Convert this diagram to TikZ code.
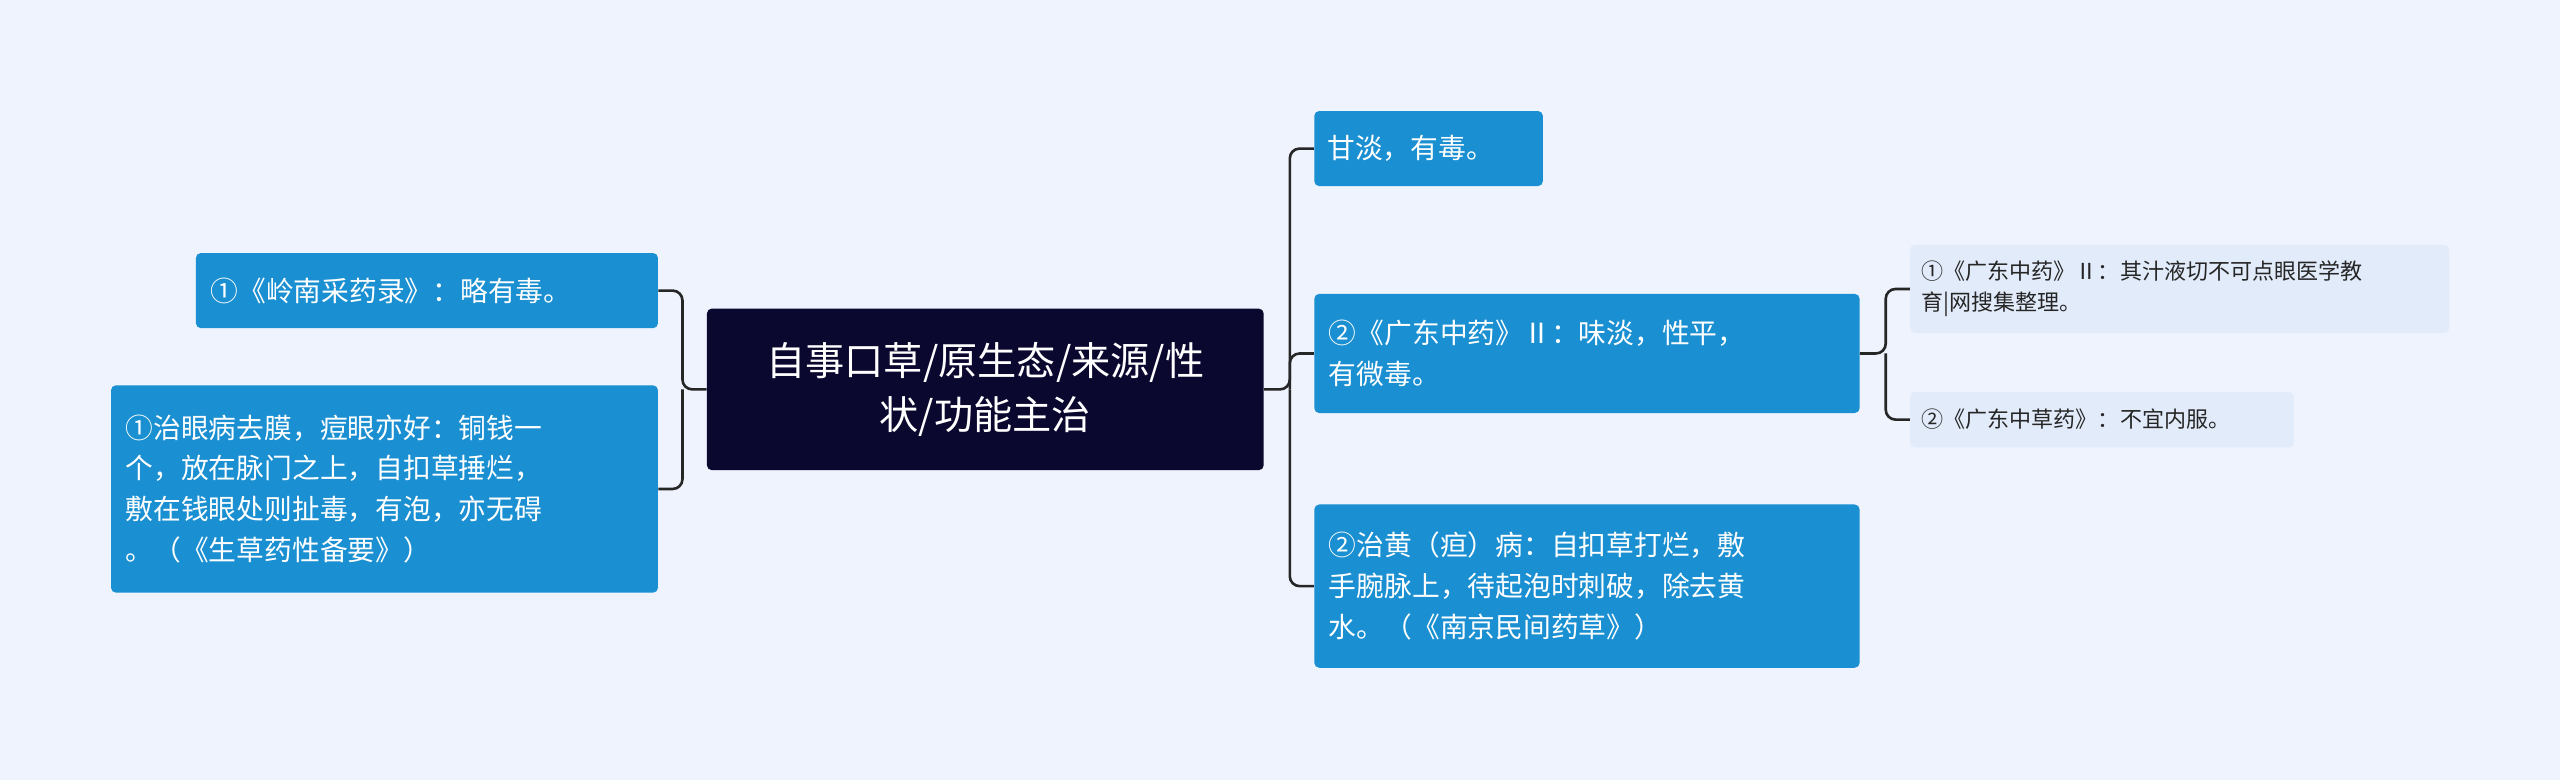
\documentclass[tikz,border=0pt]{standalone}
\usepackage{fontspec}
\setmainfont{Noto Sans CJK SC}
\begin{document}
\begin{tikzpicture}[x=1pt,y=-1pt,
  bx/.style={rounded corners=3pt,inner sep=0pt,align=left,font=\fontsize{17}{25}\selectfont},
  blue/.style={bx,fill=bluebox,text=white},
  light/.style={bx,fill=lightbox,text=black!85,font=\fontsize{13.5}{19}\selectfont},
  conn/.style={draw=black!85,line width=1.6pt,rounded corners=6pt}]
\definecolor{bluebox}{HTML}{1A8FD1}
\definecolor{lightbox}{HTML}{E2EBFA}
\definecolor{bg}{HTML}{EEF3FD}
\definecolor{dark}{HTML}{0B0830}
\fill[bg] (0,0) rectangle (1568,478);
\useasboundingbox (0,0) rectangle (1568,478);
\node[bx,fill=dark,text=white,minimum width=341,minimum height=99,text width=315,font=\fontsize{24}{33}\selectfont,align=center] (c) at (603.5,238.5) {自事口草/原生态/来源/性\\状/功能主治};
\node[blue,minimum width=283,minimum height=46,text width=265] (l1) at (261.5,178) {①《岭南采药录》：略有毒。};
\node[blue,minimum width=335,minimum height=127,text width=317] (l2) at (235.5,299.5) {①治眼病去膜，痘眼亦好：铜钱一\\个，放在脉门之上，自扣草捶烂，\\敷在钱眼处则扯毒，有泡，亦无碍\\。（《生草药性备要》）};
\node[blue,minimum width=140,minimum height=46,text width=124] (r1) at (875,91) {甘淡，有毒。};
\node[blue,minimum width=334,minimum height=73,text width=316] (r2) at (972,216.5) {②《广东中药》Ⅱ：味淡，性平，\\有微毒。};
\node[blue,minimum width=334,minimum height=100,text width=316] (r3) at (972,359) {②治黄（疸）病：自扣草打烂，敷\\手腕脉上，待起泡时刺破，除去黄\\水。（《南京民间药草》）};
\node[light,minimum width=330,minimum height=54,text width=316] (rr1) at (1335,177) {①《广东中药》Ⅱ：其汁液切不可点眼医学教\\育|网搜集整理。};
\node[light,minimum width=235,minimum height=34,text width=221] (rr2) at (1287.5,257) {②《广东中草药》：不宜内服。};
\coordinate (hl) at (418,238.5);
\coordinate (hr) at (790,238.5);
\coordinate (hrr) at (1155,216.5);
\draw[conn] (c.west) -- (hl) |- (l1.east);
\draw[conn] (hl) |- (l2.east);
\draw[conn] (c.east) -- (hr) |- (r1.west);
\draw[conn] (hr) |- (r2.west);
\draw[conn] (hr) |- (r3.west);
\draw[conn] (r2.east) -- (hrr) |- (rr1.west);
\draw[conn] (hrr) |- (rr2.west);
\end{tikzpicture}
\end{document}
